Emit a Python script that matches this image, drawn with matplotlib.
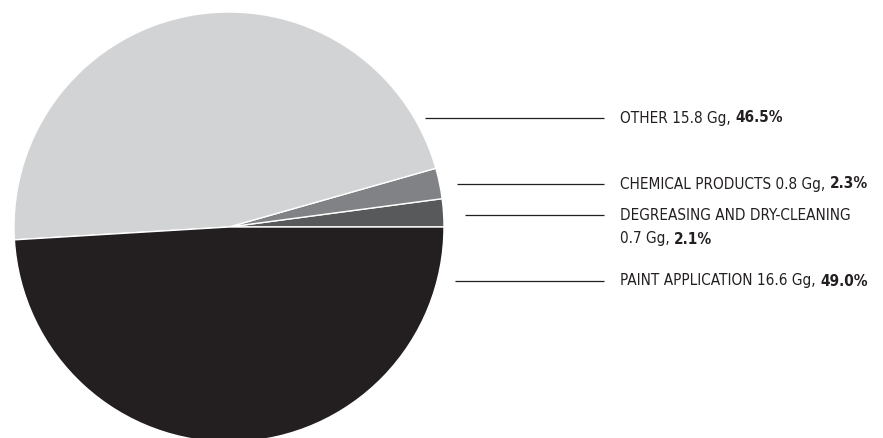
import matplotlib

matplotlib.use("Agg")
import matplotlib.pyplot as plt

# slices, counter-clockwise from 3 o'clock
LABELS = ["DEGREASING AND DRY-CLEANING", "CHEMICAL PRODUCTS", "OTHER", "PAINT APPLICATION"]
AMOUNTS = ["0.7 Gg", "0.8 Gg", "15.8 Gg", "16.6 Gg"]
SHARES = [2.1, 2.3, 46.5, 49.0]
COLORS = ["#58595b", "#808285", "#d1d3d4", "#231f20"]

W, H = 883, 438
CENTER = (229, H - 227)
RADIUS = 215

# leader line start x, y (pixel rows from top)
LEADERS = {
    "OTHER": (425, 118),
    "CHEMICAL PRODUCTS": (457, 184),
    "DEGREASING AND DRY-CLEANING": (465, 215),
    "PAINT APPLICATION": (455, 281),
}
LINE_END = 604
TEXT_X = 620

plt.rcParams["font.family"] = ["DejaVu Sans"]
plt.rcParams["font.stretch"] = "condensed"

fig = plt.figure(figsize=(W / 100, H / 100), dpi=100)
ax = fig.add_axes([0, 0, 1, 1])

ax.pie(
    SHARES,
    colors=COLORS,
    startangle=0,
    counterclock=True,
    center=CENTER,
    radius=RADIUS,
    wedgeprops={"edgecolor": "white", "linewidth": 1.0},
    frame=True,
)
ax.set_xlim(0, W)
ax.set_ylim(0, H)
ax.set_aspect("equal")
ax.axis("off")

fig.canvas.draw()
renderer = fig.canvas.get_renderer()
fs = 11


def two_part(x, y, normal, bold):
    t = ax.text(x, y, normal, fontsize=fs, color="#231f20", va="center", ha="left")
    bb = t.get_window_extent(renderer=renderer)
    x2 = ax.transData.inverted().transform((bb.x1, bb.y0))[0]
    ax.text(x2, y, bold, fontsize=fs, color="#231f20", va="center", ha="left", fontweight="bold")


for label, amount, share in zip(LABELS, AMOUNTS, SHARES):
    x0, yrow = LEADERS[label]
    y = H - yrow
    ax.plot([x0, LINE_END], [y, y], color="#231f20", lw=0.9, solid_capstyle="butt")
    if label.startswith("DEGREASING"):
        ax.text(TEXT_X, y, label, fontsize=fs, color="#231f20", va="center", ha="left")
        two_part(TEXT_X, y - 24, f"{amount}, ", f"{share:.1f}%")
    else:
        two_part(TEXT_X, y, f"{label} {amount}, ", f"{share:.1f}%")

fig.savefig("out.png", dpi=100)
